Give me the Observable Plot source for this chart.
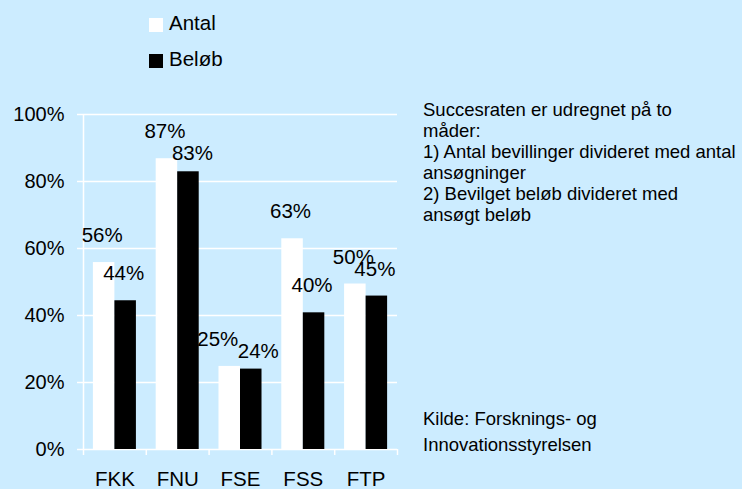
<!DOCTYPE html>
<html>
<head>
<meta charset="utf-8">
<script src="https://cdn.jsdelivr.net/npm/d3@7"></script>
<script src="https://cdn.jsdelivr.net/npm/@observablehq/plot@0.6"></script>
<style>
  html, body { margin: 0; padding: 0; background: #CCECFF; }
  #wrap { position: relative; width: 742px; height: 489px; background: #CCECFF; overflow: hidden;
          font-family: "Liberation Sans", Arial, sans-serif; color: #000; }
  .leg { position: absolute; left: 148px; font-size: 20.5px; line-height: 22px; white-space: nowrap; }
  .leg .sw { position: absolute; left: 1px; width: 14px; height: 14px; }
  .leg .lt { position: absolute; left: 21px; top: 0; }
  #note { position: absolute; left: 423px; top: 99px; font-size: 18.5px; line-height: 21px; white-space: nowrap; }
  #src { position: absolute; left: 423px; top: 406px; font-size: 18.5px; line-height: 26px; white-space: nowrap; }
  #chart { position: absolute; left: 0; top: 80px; }
</style>
</head>
<body>
<div id="wrap">
  <div id="legend"></div>
  <div id="note"></div>
  <div id="src"></div>
  <div id="chart"></div>
</div>
<script>
const categories = ["FKK", "FNU", "FSE", "FSS", "FTP"];
const series = ["Antal", "Beløb"];
const seriesColors = ["#ffffff", "#000000"];
const antal = [55.8, 86.8, 24.8, 62.9, 49.4];
const belob = [44.4, 82.9, 24.0, 40.8, 45.8];
const antalLabels = ["56%", "87%", "25%", "63%", "50%"];
const belobLabels = ["44%", "83%", "24%", "40%", "45%"];
const yTicks = [0, 20, 40, 60, 80, 100];
const noteLines = [
  "Succesraten er udregnet på to",
  "måder:",
  "1) Antal bevillinger divideret med antal",
  "ansøgninger",
  "2) Bevilget beløb divideret med",
  "ansøgt beløb"
];
const sourceLines = ["Kilde: Forsknings- og", "Innovationsstyrelsen"];

// Layout settings (not data): Excel-like gap width and hand-moved data labels
const gap = 0.315;
const barFrac = (1 - gap) / 2;
const labelNudge = { "FNU|Beløb": [6, 9], "FSE|Antal": [-10, 0], "FSE|Beløb": [9, 9] };

const rows = [];
categories.forEach((c, i) => {
  [antal, belob].forEach((vals, j) => {
    const x1 = i + gap / 2 + j * barFrac;
    const n = labelNudge[c + "|" + series[j]] || [0, 0];
    rows.push({
      category: c,
      series: series[j],
      value: vals[i],
      label: (j === 0 ? antalLabels : belobLabels)[i],
      x1, x2: x1 + barFrac, xm: x1 + barFrac / 2,
      ndx: n[0], ndy: n[1]
    });
  });
});

const boundaries = d3.range(categories.length + 1);
const centers = categories.map((c, i) => i + 0.5);

const chart = Plot.plot({
  width: 742,
  height: 409,
  marginTop: 34,
  marginBottom: 40,
  marginLeft: 83,
  marginRight: 345,
  style: { background: "transparent", fontFamily: "Liberation Sans, Arial, sans-serif", fontSize: "20px", color: "#000" },
  x: { domain: [0, categories.length], label: null },
  y: { domain: [0, 100], label: null },
  color: { domain: series, range: seriesColors },
  marks: [
    Plot.gridY(yTicks, { stroke: "white", strokeOpacity: 1, strokeWidth: 1.5 }),
    Plot.axisY(yTicks, { tickSize: 6, tickPadding: 13, stroke: "white", strokeOpacity: 1, strokeWidth: 1.5, fill: "black", tickFormat: d => d + "%", fontSize: 20 }),
    Plot.ruleX([0], { y1: 0, y2: 100, stroke: "white", strokeWidth: 1.5 }),
    Plot.axisX(boundaries, { tickSize: 6, stroke: "white", strokeOpacity: 1, strokeWidth: 1.5, tickFormat: () => "" }),
    Plot.axisX(centers, { tickSize: 0, tickPadding: 22, tickFormat: d => categories[Math.floor(d)], fill: "black", fontSize: 20.5 }),
    Plot.rectY(rows, { x1: "x1", x2: "x2", y1: 0, y2: "value", fill: "series" }),
    Plot.text(rows, {
      x: "xm", y: "value", text: "label", fill: "black", fontSize: 20.5,
      render(index, scales, values, dims, ctx, next) {
        const g = next(index, scales, values, dims, ctx);
        d3.select(g).selectAll("text").each(function (_, k) {
          const d = rows[index[k]];
          d3.select(this).attr("dx", -2 + d.ndx).attr("dy", -27 + d.ndy);
        });
        return g;
      }
    })
  ]
});
document.getElementById("chart").appendChild(chart);

// Legend
const legend = d3.select("#legend");
series.forEach((s, j) => {
  const row = legend.append("div").attr("class", "leg").style("top", (12 + j * 36) + "px");
  row.append("div").attr("class", "sw").style("top", "6px").style("background", seriesColors[j]);
  row.append("div").attr("class", "lt").text(s);
});

d3.select("#note").selectAll("div").data(noteLines).join("div").text(d => d);
d3.select("#src").selectAll("div").data(sourceLines).join("div").text(d => d);
</script>
</body>
</html>
